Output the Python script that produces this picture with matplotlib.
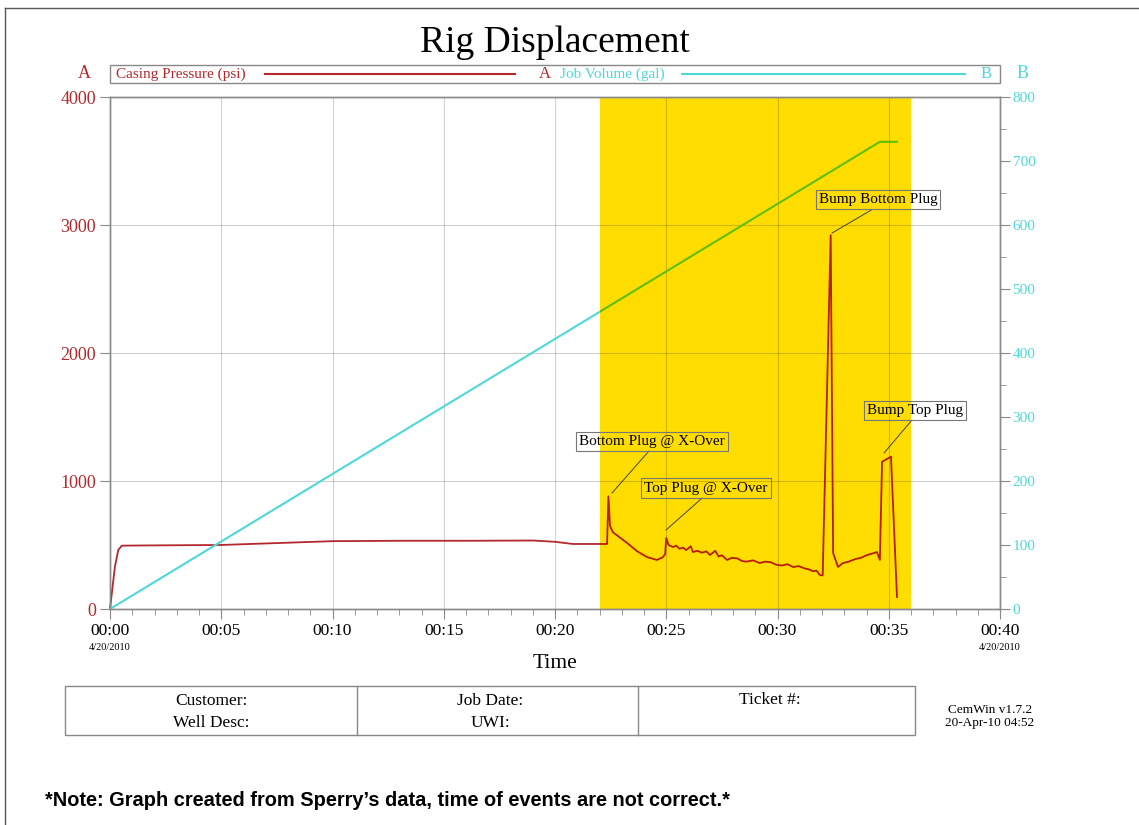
import matplotlib.pyplot as plt
from matplotlib.patches import Rectangle
from matplotlib.lines import Line2D
from matplotlib.transforms import Bbox, TransformedBbox, blended_transform_factory

# casing pressure (psi) vs time (minutes)
press_time = [0, 0.22, 0.37, 0.53, 2.0, 4.94, 7.5, 10.0, 13.0, 16.0, 19.0, 20.0, 20.8,
              22.34, 22.40, 22.47, 22.6, 23.24, 23.7, 24.13, 24.58, 24.85, 24.95, 25.0,
              25.1, 25.3, 25.45, 25.6, 25.75, 25.9, 26.1, 26.2, 26.4, 26.6, 26.8, 26.97,
              27.2, 27.35, 27.5, 27.73, 27.95, 28.2, 28.4, 28.6, 28.9, 29.2, 29.45, 29.7,
              29.95, 30.2, 30.45, 30.7, 30.95, 31.2, 31.4, 31.6, 31.75, 31.9, 32.03, 32.39,
              32.5, 32.72, 32.94, 33.2, 33.5, 33.75, 34.0, 34.2, 34.47, 34.6, 34.7, 35.1,
              35.37]
pressure = [0, 330, 460, 495, 497, 500, 515, 530, 533, 533, 535, 525, 508,
            508, 880, 650, 600, 516, 450, 406, 383, 405, 430, 555,
            500, 484, 495, 470, 480, 460, 490, 445, 455, 440, 450, 422,
            455, 410, 420, 383, 400, 395, 375, 370, 380, 359, 370, 365,
            345, 340, 350, 328, 335, 318, 310, 295, 300, 266, 262, 2920,
            437, 328, 359, 370, 390, 400, 420, 430, 445, 383, 1150, 1190,
            94]

# job volume (gal)
vol_time = [0, 34.6, 35.37]
volume = [0, 730, 730]

highlight = (22, 36)

x_ticks = [0, 5, 10, 15, 20, 25, 30, 35, 40]
x_tick_labels = ["00:00", "00:05", "00:10", "00:15", "00:20", "00:25", "00:30", "00:35", "00:40"]
date_label = "4/20/2010"

# (label, event point, text centre)
events = [
    ("Bottom Plug @ X-Over", (22.56, 906), (24.36, 1312)),
    ("Top Plug @ X-Over", (24.99, 617), (26.79, 945)),
    ("Bump Bottom Plug", (32.45, 2937), (34.52, 3199)),
    ("Bump Top Plug", (34.79, 1219), (36.16, 1551)),
]

RED = "#b3282d"
RED_Y = "#b81d00"
CYAN = "#4fd8d8"
CYAN_Y = "#5fbf00"
YELLOW = "#ffdd00"
SERIF = "Liberation Serif"

W, H = 1139, 825
fig = plt.figure(figsize=(W / 100, H / 100), dpi=100)


def fx(x):
    return x / W


def fy(y):
    return 1 - y / H


ax = fig.add_axes([fx(110), fy(609), fx(1000) - fx(110), fy(97) - fy(609)])
ax2 = ax.twinx()

ax.axvspan(*highlight, color=YELLOW, zorder=0, lw=0)
ax.set_axisbelow(True)
ax.grid(True, color="black", alpha=0.18, lw=0.8)

ln, = ax.plot(press_time, pressure, color=RED, lw=1.3, zorder=3)
ln_y, = ax.plot(press_time, pressure, color=RED_Y, lw=1.3, zorder=3)
ln_y.set_clip_box(TransformedBbox(Bbox([[highlight[0], -500], [highlight[1], 5000]]), ax.transData))
ln.set_clip_box(TransformedBbox(Bbox([[-5, -500], [highlight[0], 5000]]), ax.transData))

v, = ax2.plot(vol_time, volume, color=CYAN, lw=1.5)
v_y, = ax2.plot(vol_time, volume, color=CYAN_Y, lw=1.5)
v_y.set_clip_box(TransformedBbox(Bbox([[highlight[0], -100], [highlight[1], 1000]]), ax2.transData))
v.set_clip_box(TransformedBbox(Bbox([[-5, -100], [highlight[0], 1000]]), ax2.transData))

ax.set_xlim(0, 40)
ax.set_ylim(0, 4000)
ax2.set_ylim(0, 800)

ax.set_xticks(x_ticks)
ax.set_xticklabels(x_tick_labels, family=SERIF, fontsize=12.5)
ax.set_xticks(range(0, 41), minor=True)
ax.set_yticks([0, 1000, 2000, 3000, 4000])
ax.set_yticklabels(["0", "1000", "2000", "3000", "4000"], family=SERIF, fontsize=13, color=RED)
ax2.set_yticks(range(0, 801, 100))
ax2.set_yticklabels([str(t) for t in range(0, 801, 100)], family=SERIF, fontsize=11, color=CYAN)
ax2.set_yticks(range(0, 801, 50), minor=True)

ax.tick_params(axis="both", which="major", direction="out", length=7, color="#888888", pad=3)
ax.tick_params(axis="x", which="minor", direction="out", length=4, color="#888888")
ax2.tick_params(axis="y", which="major", direction="out", length=7, color="#888888", pad=2)
ax2.tick_params(axis="y", which="minor", direction="out", length=4, color="#888888")

for a in (ax, ax2):
    for s in a.spines.values():
        s.set_color("#8a8a8a")
        s.set_linewidth(1.0)

tr = blended_transform_factory(ax.transData, ax.transAxes)
for t in (x_ticks[0], x_ticks[-1]):
    ax.text(t, -0.075, date_label, transform=tr, ha="center", va="center",
            family=SERIF, fontsize=7.5)

ax.set_xlabel("Time", family=SERIF, fontsize=15.5, labelpad=11)

for label, pt, txt in events:
    ax.annotate(label, xy=pt, xytext=txt, ha="center", va="center",
                family=SERIF, fontsize=11, zorder=5,
                bbox=dict(boxstyle="square,pad=0.2", fc="none", ec="#777777", lw=0.8),
                arrowprops=dict(arrowstyle="-", color="#555555", lw=0.8, relpos=(0.5, 0),
                                shrinkA=0, shrinkB=0))

# title and legend strip
fig.text(fx(555), fy(43), "Rig Displacement", ha="center", va="center", family=SERIF, fontsize=27)
fig.patches.append(Rectangle((fx(110), fy(83)), fx(1000) - fx(110), fy(65) - fy(83),
                             transform=fig.transFigure, fill=False, ec="#888888", lw=1))
fig.text(fx(84), fy(73), "A", ha="center", va="center", family=SERIF, fontsize=13, color=RED)
fig.text(fx(1023), fy(73), "B", ha="center", va="center", family=SERIF, fontsize=13, color=CYAN)
fig.text(fx(116), fy(74), "Casing Pressure (psi)", ha="left", va="center", family=SERIF,
         fontsize=11, color=RED)
fig.lines.append(Line2D([fx(265), fx(515)], [fy(74), fy(74)], transform=fig.transFigure,
                        color=RED, lw=1.5))
fig.text(fx(545), fy(74), "A", ha="center", va="center", family=SERIF, fontsize=12, color=RED)
fig.text(fx(560), fy(74), "Job Volume (gal)", ha="left", va="center", family=SERIF,
         fontsize=11, color=CYAN)
fig.lines.append(Line2D([fx(682), fx(965)], [fy(74), fy(74)], transform=fig.transFigure,
                        color=CYAN, lw=1.5))
fig.text(fx(986), fy(74), "B", ha="center", va="center", family=SERIF, fontsize=12, color=CYAN)

# footer table
fig.patches.append(Rectangle((fx(65), fy(735)), fx(915) - fx(65), fy(686) - fy(735),
                             transform=fig.transFigure, fill=False, ec="#888888", lw=1))
for xd in (357, 638):
    fig.lines.append(Line2D([fx(xd), fx(xd)], [fy(686), fy(735)], transform=fig.transFigure,
                            color="#888888", lw=1))
cells = [(211, 701, "Customer:"), (211, 723, "Well Desc:"), (490, 701, "Job Date:"),
         (490, 723, "UWI:"), (770, 700, "Ticket #:")]
for xc, yc, s in cells:
    fig.text(fx(xc), fy(yc), s, ha="center", va="center", family=SERIF, fontsize=12.5)
fig.text(fx(990), fy(710), "CemWin v1.7.2", ha="center", va="center", family=SERIF, fontsize=9.5)
fig.text(fx(990), fy(723), "20-Apr-10 04:52", ha="center", va="center", family=SERIF, fontsize=9.5)

fig.text(fx(45), fy(800), "*Note: Graph created from Sperry\u2019s data, time of events are not correct.*",
         ha="left", va="center", family="Liberation Sans", fontweight="bold", fontsize=14.4)

# outer frame
fig.lines.append(Line2D([fx(5), fx(1139)], [fy(8), fy(8)], transform=fig.transFigure,
                        color="#555555", lw=1))
fig.lines.append(Line2D([fx(5), fx(5)], [fy(8), fy(825)], transform=fig.transFigure,
                        color="#555555", lw=1))

fig.savefig("out.png", dpi=100)
